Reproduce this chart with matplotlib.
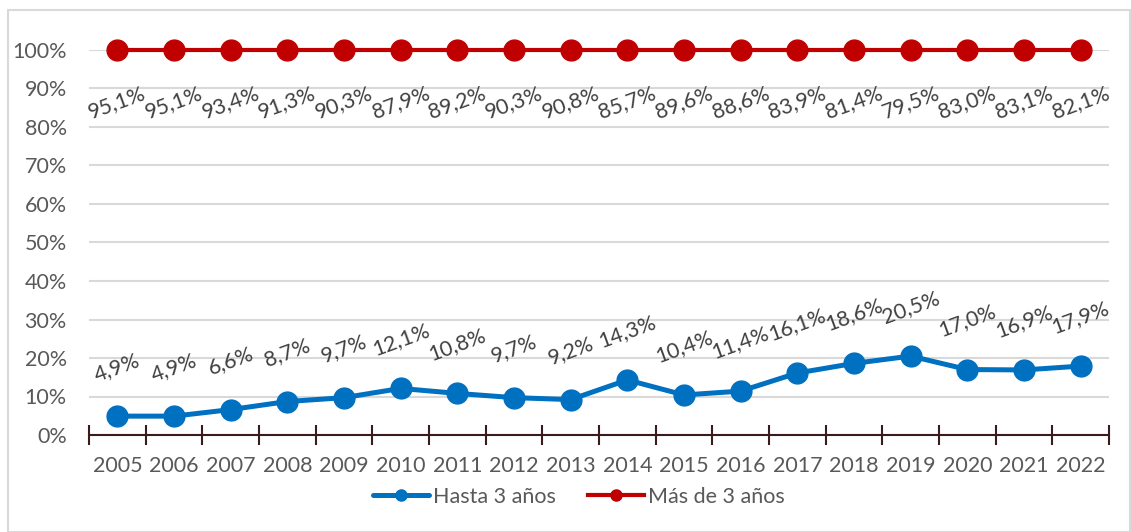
import numpy as np
import matplotlib.pyplot as plt
from matplotlib.patches import Rectangle

plt.rcParams['font.family'] = ['Lato', 'DejaVu Sans']

years = [str(y) for y in range(2005, 2023)]
hasta_3 = [4.9, 4.9, 6.6, 8.7, 9.7, 12.1, 10.8, 9.7, 9.2, 14.3, 10.4, 11.4, 16.1, 18.6, 20.5, 17.0, 16.9, 17.9]
mas_3 = [95.1, 95.1, 93.4, 91.3, 90.3, 87.9, 89.2, 90.3, 90.8, 85.7, 89.6, 88.6, 83.9, 81.4, 79.5, 83.0, 83.1, 82.1]

blue = "#0070C0"
red = "#C00000"
grey_txt = "#595959"
lab_txt = "#404040"

fig = plt.figure(figsize=(11.31, 5.32), dpi=100)
fig.patches.append(Rectangle((8 / 1131, 0), 1 - 8 / 1131 - 0.0005, 1 - 10 / 532,
                             transform=fig.transFigure, fill=False,
                             edgecolor="#D9D9D9", linewidth=1.5))
ax = fig.add_axes([89 / 1131, 97 / 532, 1020 / 1131, 385 / 532])

x = np.arange(len(years))
h = np.array(hasta_3) / 100
stacked = h + np.array(mas_3) / 100  # stacked line: cumulative total

ax.plot(x, h, color=blue, lw=3.6, marker="o", ms=15, label="Hasta 3 años",
        solid_capstyle="round", zorder=3)
ax.plot(x, stacked, color=red, lw=3.0, marker="o", ms=15, label="Más de 3 años",
        zorder=3, clip_on=False)

def fmt(v):
    return f"{v:.1f}%".replace(".", ",")

for xi, yi, v in zip(x, h, hasta_3):
    ax.annotate(fmt(v), (xi, yi), xytext=(0, 35), textcoords="offset points",
                ha="center", va="center", rotation=20, fontsize=15.5, color=lab_txt)
for xi, yi, v in zip(x, stacked, mas_3):
    ax.annotate(fmt(v), (xi, yi), xytext=(0, -38), textcoords="offset points",
                ha="center", va="center", rotation=20, fontsize=15.5, color=lab_txt)

ax.set_xlim(-0.5, len(years) - 0.5)
ax.set_ylim(0, 1.0)
ax.set_yticks(np.arange(0, 1.01, 0.1))
ax.set_yticklabels([f"{int(round(t * 100))}%" for t in np.arange(0, 1.01, 0.1)])
ax.yaxis.grid(True, color="#D9D9D9", lw=1.5)
ax.set_axisbelow(True)

ax.set_xticks(x)
ax.set_xticklabels(years)
ax.set_xticks(np.arange(-0.5, len(years)), minor=True)
ax.tick_params(axis="x", which="major", length=0, pad=15, labelsize=15.5, labelcolor=grey_txt)
ax.tick_params(axis="x", which="minor", direction="inout", length=14, width=1.5, color="#3A1A1A")
ax.tick_params(axis="y", length=0, pad=16, labelsize=15.5, labelcolor=grey_txt)

for s in ["top", "right", "left"]:
    ax.spines[s].set_visible(False)
ax.spines["bottom"].set_color("#3A1A1A")
ax.spines["bottom"].set_linewidth(1.5)

leg = fig.legend(loc="center", bbox_to_anchor=(579 / 1131, 35 / 532), ncol=2, frameon=False,
                 fontsize=15.5, handlelength=2.6, columnspacing=1.5, handletextpad=0.2)
for t in leg.get_texts():
    t.set_color(grey_txt)
for ln in leg.get_lines():
    ln.set_markersize(8)

fig.savefig("out.png", dpi=100)
